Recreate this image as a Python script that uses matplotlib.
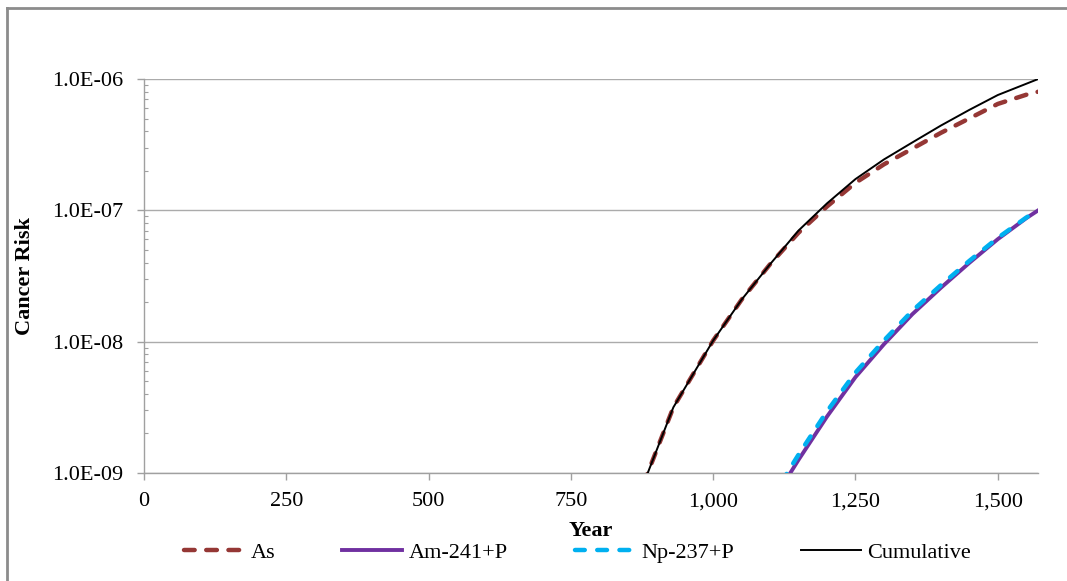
import numpy as np
import matplotlib
matplotlib.use('Agg')
import matplotlib.pyplot as plt
from matplotlib.ticker import FixedLocator, FuncFormatter, LogLocator, NullFormatter
from matplotlib.lines import Line2D

plt.rcParams['font.family'] = ['Liberation Serif', 'DejaVu Serif']

# Year grid and risk values
years = [850, 885, 930, 1000, 1050, 1100, 1150, 1200, 1250, 1300,
         1350, 1400, 1450, 1500, 1550, 1571]
as_risk = [3.98e-10, 1.0e-9, 3.16e-9, 1.02e-8, 2.09e-8, 3.89e-8, 6.76e-8, 1.07e-7,
           1.62e-7, 2.24e-7, 2.95e-7, 3.89e-7, 5.01e-7, 6.46e-7, 7.59e-7, 8.0e-7]
cum_risk = [3.98e-10, 1.0e-9, 3.16e-9, 1.02e-8, 2.09e-8, 3.89e-8, 7.02e-8, 1.13e-7,
            1.73e-7, 2.44e-7, 3.29e-7, 4.42e-7, 5.82e-7, 7.55e-7, 9.2e-7, 1.0e-6]

years_ac = [1120, 1150, 1200, 1250, 1300, 1350, 1400, 1450, 1500, 1550, 1571]
am_risk = [7.8e-10, 1.26e-9, 2.69e-9, 5.37e-9, 9.55e-9, 1.62e-8, 2.57e-8,
           3.98e-8, 6.03e-8, 8.71e-8, 1.0e-7]
np_risk = [8.5e-10, 1.38e-9, 2.95e-9, 5.82e-9, 1.02e-8, 1.72e-8, 2.69e-8,
           4.12e-8, 6.17e-8, 8.81e-8, 1.0e-7]

x_ticks = [0, 250, 500, 750, 1000, 1250, 1500]
y_ticks = [1e-9, 1e-8, 1e-7, 1e-6]

fig = plt.figure(figsize=(10.67, 5.81), dpi=100)
ax = fig.add_axes([0.135, 0.186, 0.838, 0.678])

ax.plot(years, as_risk, color='#953735', lw=3.2, dashes=(2.4, 2.6),
        dash_capstyle='round', label='As', zorder=3)
ax.plot(years_ac, am_risk, color='#7030A0', lw=2.8, label='Am-241+P', zorder=3)
ax.plot(years_ac, np_risk, color='#00B0F0', lw=3.2, dashes=(2.2, 2.8),
        dash_capstyle='round', label='Np-237+P', zorder=4)
ax.plot(years, cum_risk, color='black', lw=1.4, label='Cumulative', zorder=5)

ax.set_yscale('log')
ax.set_xlim(0, 1571)
ax.set_ylim(1e-9, 1e-6)

ax.xaxis.set_major_locator(FixedLocator(x_ticks))
ax.xaxis.set_major_formatter(FuncFormatter(lambda v, p: f'{int(v):,}'))
ax.yaxis.set_major_locator(FixedLocator(y_ticks))
ax.yaxis.set_major_formatter(FuncFormatter(lambda v, p: f'{v:.1E}'))
ax.yaxis.set_minor_locator(LogLocator(base=10, subs=np.arange(2, 10)))
ax.yaxis.set_minor_formatter(NullFormatter())

gray = '#A0A0A0'
for s in ['top', 'right']:
    ax.spines[s].set_visible(False)
for s in ['left', 'bottom']:
    ax.spines[s].set_color(gray)
    ax.spines[s].set_linewidth(1.0)

ax.grid(True, axis='y', which='major', color='#ABABAB', lw=1.0)
ax.tick_params(axis='both', which='major', direction='out', length=5, width=1,
               color=gray, labelsize=16, labelcolor='black')
ax.tick_params(axis='x', pad=9)
ax.tick_params(axis='y', pad=10)
ax.tick_params(axis='y', which='minor', direction='in', length=3, width=0.8, color=gray)

ax.set_xlabel('Year', fontsize=16, fontweight='bold')
ax.xaxis.set_label_coords(0.5, -0.122)
ax.set_ylabel('Cancer Risk', fontsize=16, fontweight='bold')
ax.yaxis.set_label_coords(-0.122, 0.5)

ax.legend(loc='center', bbox_to_anchor=(0.485, -0.203), ncol=4, frameon=False,
          fontsize=16, handlelength=2.7, handletextpad=0.3, columnspacing=3.0)

# outer chart frame (top and left edges)
fig.add_artist(Line2D([0.0066, 1.0], [0.986, 0.986], transform=fig.transFigure,
                      color='#8C8C8C', lw=2))
fig.add_artist(Line2D([0.0066, 0.0066], [0.0, 0.986], transform=fig.transFigure,
                      color='#8C8C8C', lw=2))

fig.savefig('out.png', dpi=100)
